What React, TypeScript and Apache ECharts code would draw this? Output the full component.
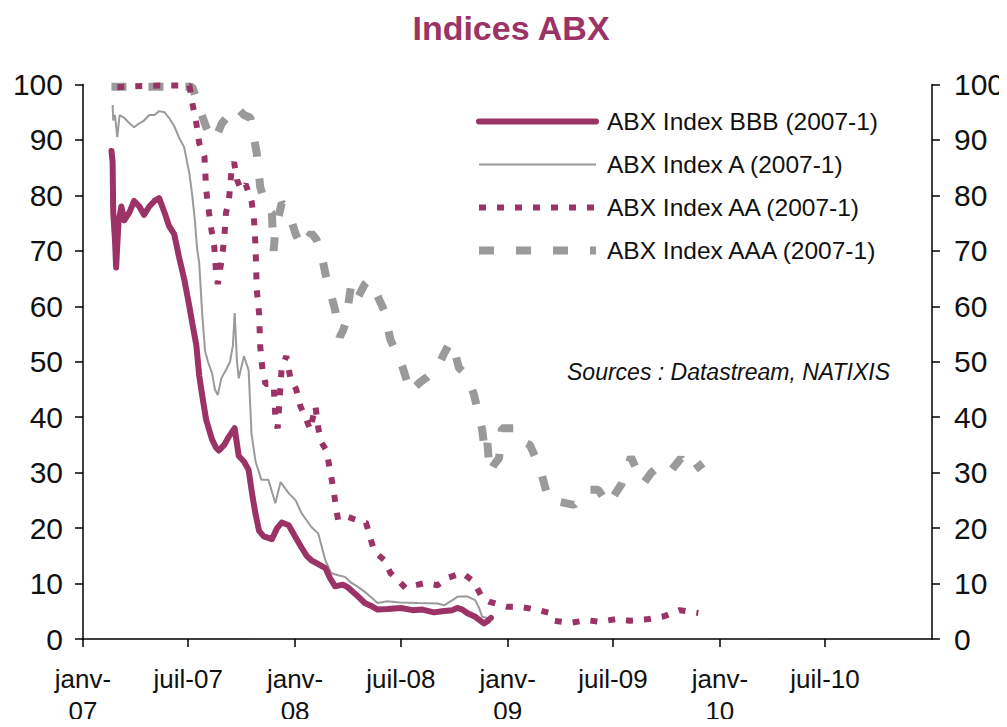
import React, { useEffect, useRef } from "react";
import * as echarts from "echarts";

const chartTitle = "Indices ABX";
const sourceNote = "Sources : Datastream, NATIXIS";
const seriesNames = [
  "ABX Index BBB (2007-1)",
  "ABX Index A (2007-1)",
  "ABX Index AA (2007-1)",
  "ABX Index AAA (2007-1)",
];
const monthLabels: Record<number, string> = { 0: "janv-\n", 6: "juil-" };

const bbb: [string, number][] = [
  ["2007-02-19", 88], ["2007-02-21", 86], ["2007-02-22", 77], ["2007-02-25", 72], ["2007-02-27", 67],
  ["2007-03-03", 75], ["2007-03-08", 78], ["2007-03-13", 75.5], ["2007-03-22", 77], ["2007-03-30", 79],
  ["2007-04-08", 78], ["2007-04-16", 76.5], ["2007-04-25", 78], ["2007-05-04", 79], ["2007-05-12", 79.5],
  ["2007-05-21", 77], ["2007-05-29", 74.5], ["2007-06-07", 73], ["2007-06-15", 69], ["2007-06-24", 65],
  ["2007-07-03", 60], ["2007-07-08", 57], ["2007-07-15", 53], ["2007-07-20", 47.5], ["2007-07-25", 44],
  ["2007-08-01", 39.5], ["2007-08-11", 36], ["2007-08-18", 34.5], ["2007-08-23", 34], ["2007-09-01", 35],
  ["2007-09-09", 36.5], ["2007-09-19", 38], ["2007-09-26", 33], ["2007-10-05", 32], ["2007-10-13", 30.5],
  ["2007-10-20", 25.5], ["2007-10-25", 22.5], ["2007-10-31", 19.5], ["2007-11-08", 18.5], ["2007-11-22", 18],
  ["2007-12-01", 20], ["2007-12-09", 21], ["2007-12-21", 20.5], ["2008-01-01", 18.5], ["2008-01-12", 16.5],
  ["2008-01-21", 15], ["2008-01-29", 14.2], ["2008-02-10", 13.5], ["2008-02-22", 12.8], ["2008-03-01", 11],
  ["2008-03-10", 9.5], ["2008-03-23", 9.8], ["2008-04-01", 9.3], ["2008-04-15", 8], ["2008-04-30", 6.5],
  ["2008-05-10", 6], ["2008-05-22", 5.3], ["2008-06-08", 5.4], ["2008-07-01", 5.6], ["2008-07-21", 5.2],
  ["2008-08-07", 5.3], ["2008-08-27", 4.8], ["2008-09-10", 5.0], ["2008-09-28", 5.2], ["2008-10-06", 5.6],
  ["2008-10-15", 5.3], ["2008-10-23", 4.7], ["2008-11-06", 4.0], ["2008-11-21", 2.8], ["2008-11-27", 3.2],
  ["2008-12-03", 3.8],
];

const indexA: [string, number][] = [
  ["2007-02-21", 96.3], ["2007-02-22", 93.5], ["2007-02-25", 94.5], ["2007-03-01", 90.5], ["2007-03-05", 94.5],
  ["2007-03-13", 94], ["2007-03-22", 93], ["2007-03-30", 92.3], ["2007-04-08", 93], ["2007-04-16", 93.5],
  ["2007-04-25", 94.5], ["2007-05-04", 94.5], ["2007-05-12", 95.2], ["2007-05-21", 95], ["2007-05-29", 94],
  ["2007-06-07", 92.5], ["2007-06-15", 90.5], ["2007-06-24", 88.7], ["2007-07-03", 84], ["2007-07-08", 80],
  ["2007-07-13", 75], ["2007-07-16", 70.7], ["2007-07-20", 67.8], ["2007-07-25", 58.8], ["2007-07-30", 52],
  ["2007-08-04", 50], ["2007-08-11", 48], ["2007-08-16", 45], ["2007-08-21", 44], ["2007-08-27", 47],
  ["2007-09-04", 48.5], ["2007-09-11", 50], ["2007-09-16", 53], ["2007-09-19", 58.8], ["2007-09-23", 50],
  ["2007-09-26", 47], ["2007-10-05", 51], ["2007-10-13", 48.5], ["2007-10-18", 37], ["2007-10-25", 32],
  ["2007-11-04", 28.7], ["2007-11-16", 28.7], ["2007-11-28", 24.5], ["2007-12-07", 28.3], ["2007-12-21", 26.3],
  ["2008-01-02", 25], ["2008-01-12", 22.7], ["2008-01-29", 20.2], ["2008-02-10", 19], ["2008-02-22", 14.2],
  ["2008-03-03", 11.9], ["2008-03-15", 11.5], ["2008-03-27", 11.2], ["2008-04-06", 10.2], ["2008-04-18", 9.4],
  ["2008-04-30", 8.5], ["2008-05-10", 7.6], ["2008-05-22", 6.5], ["2008-06-08", 6.8], ["2008-06-29", 6.6],
  ["2008-07-30", 6.5], ["2008-09-02", 6.4], ["2008-09-14", 6.1], ["2008-09-28", 7.0], ["2008-10-06", 7.6],
  ["2008-10-23", 7.7], ["2008-11-06", 7.0], ["2008-11-13", 5.5], ["2008-11-18", 4.0], ["2008-11-27", 3.8],
];

const indexAA: [string, number][] = [
  ["2007-03-01", 99.5], ["2007-03-30", 99.7], ["2007-05-12", 99.8], ["2007-07-03", 99.8], ["2007-07-08", 96.7],
  ["2007-07-15", 93], ["2007-07-20", 89.4], ["2007-07-29", 87], ["2007-08-01", 81], ["2007-08-06", 76.8],
  ["2007-08-10", 73.8], ["2007-08-15", 70.7], ["2007-08-18", 66], ["2007-08-21", 64], ["2007-08-27", 68],
  ["2007-09-01", 72], ["2007-09-04", 76.8], ["2007-09-09", 79], ["2007-09-14", 85], ["2007-09-18", 86],
  ["2007-09-23", 82.8], ["2007-09-30", 81], ["2007-10-08", 82], ["2007-10-18", 79], ["2007-10-22", 76],
  ["2007-10-25", 70.7], ["2007-10-27", 63], ["2007-10-31", 58.8], ["2007-11-02", 52.7], ["2007-11-06", 48.5],
  ["2007-11-11", 46], ["2007-11-25", 46], ["2007-11-28", 40], ["2007-12-02", 38], ["2007-12-09", 49],
  ["2007-12-17", 51], ["2007-12-24", 47], ["2008-01-03", 45], ["2008-01-10", 42], ["2008-01-19", 40],
  ["2008-01-27", 37.7], ["2008-02-05", 42], ["2008-02-10", 38], ["2008-02-15", 35.5], ["2008-02-24", 34],
  ["2008-03-01", 30.5], ["2008-03-07", 27], ["2008-03-12", 23.3], ["2008-03-15", 21.5], ["2008-04-01", 22],
  ["2008-04-15", 21.5], ["2008-05-02", 21], ["2008-05-10", 18], ["2008-05-17", 15.7], ["2008-06-03", 14.2],
  ["2008-06-13", 11.9], ["2008-06-26", 10.6], ["2008-07-09", 9.2], ["2008-07-26", 9.7], ["2008-08-12", 10.1],
  ["2008-09-02", 9.7], ["2008-09-19", 11], ["2008-10-15", 11.9], ["2008-11-04", 10.3], ["2008-11-18", 7.4],
  ["2008-12-01", 6.7], ["2008-12-31", 5.8], ["2009-01-23", 5.8], ["2009-02-24", 5.2], ["2009-03-13", 4.7],
  ["2009-03-21", 3.3], ["2009-04-18", 2.9], ["2009-05-17", 3.4], ["2009-06-08", 3.1], ["2009-07-07", 3.6],
  ["2009-07-30", 3.3], ["2009-09-01", 3.6], ["2009-09-27", 4.1], ["2009-10-24", 5.2], ["2009-11-25", 4.7],
];

const indexAAA: [string, number][] = [
  ["2007-02-19", 99.6], ["2007-04-25", 99.6], ["2007-07-08", 99.6], ["2007-07-15", 97.5], ["2007-07-20", 95.8],
  ["2007-08-01", 92.3], ["2007-08-11", 90], ["2007-08-20", 91], ["2007-08-28", 93], ["2007-09-09", 94.5],
  ["2007-09-21", 96], ["2007-10-05", 94.5], ["2007-10-16", 94], ["2007-10-27", 87.6], ["2007-11-02", 81.5],
  ["2007-11-09", 79], ["2007-11-16", 77.4], ["2007-11-22", 76.8], ["2007-11-25", 70], ["2007-11-28", 73.8],
  ["2007-12-09", 78.6], ["2007-12-16", 78], ["2007-12-24", 76], ["2008-01-02", 73], ["2008-01-12", 70.7],
  ["2008-01-21", 72], ["2008-01-29", 73.2], ["2008-02-07", 72], ["2008-02-14", 70], ["2008-02-24", 65],
  ["2008-03-03", 62], ["2008-03-10", 59.3], ["2008-03-18", 54.5], ["2008-03-23", 55.5], ["2008-03-28", 57],
  ["2008-04-06", 63.5], ["2008-04-15", 61], ["2008-04-22", 62.4], ["2008-04-30", 64], ["2008-05-06", 64.7],
  ["2008-05-17", 63], ["2008-06-02", 59.3], ["2008-06-13", 54], ["2008-06-26", 51], ["2008-07-04", 49],
  ["2008-07-18", 44.4], ["2008-07-26", 45.5], ["2008-08-03", 46.3], ["2008-08-16", 47.3], ["2008-09-02", 49],
  ["2008-09-14", 51.6], ["2008-09-24", 53.6], ["2008-10-01", 52], ["2008-10-09", 48.9], ["2008-10-18", 48],
  ["2008-10-26", 46.7], ["2008-11-04", 44], ["2008-11-13", 40], ["2008-11-18", 37.7], ["2008-11-23", 33.5],
  ["2008-11-27", 35.3], ["2008-12-01", 30], ["2008-12-08", 31.4], ["2008-12-17", 32.6], ["2008-12-22", 38],
  ["2009-01-03", 38], ["2009-01-11", 38], ["2009-01-17", 36.2], ["2009-01-29", 35.5], ["2009-02-08", 35],
  ["2009-02-25", 31], ["2009-03-06", 27.5], ["2009-03-13", 25], ["2009-04-01", 24.7], ["2009-04-25", 24.2],
  ["2009-05-08", 25.5], ["2009-05-17", 26.9], ["2009-06-06", 26.9], ["2009-06-23", 24.2], ["2009-07-16", 28],
  ["2009-08-01", 32.8], ["2009-08-13", 30], ["2009-08-22", 28], ["2009-09-05", 30], ["2009-09-17", 31],
  ["2009-10-06", 30], ["2009-10-26", 32.6], ["2009-11-12", 30], ["2009-12-03", 31.7],
];

const MAROON = "#9b3366";
const GRAY = "#9a9a9a";
const FONT = "'Liberation Sans', Arial, sans-serif";
const DAY = 24 * 3600 * 1000;

export default function App() {
  const ref = useRef<HTMLDivElement>(null);
  useEffect(() => {
    if (!ref.current) return;
    const chart = echarts.init(ref.current, undefined, { renderer: "svg" });
    const yAxisCommon = {
      type: "value" as const,
      min: 0,
      max: 100,
      interval: 10,
      splitLine: { show: false },
      axisLine: { show: true, lineStyle: { color: "#000", width: 1.5 } },
      axisTick: { show: true, length: 8, lineStyle: { color: "#000", width: 1.5 } },
    };
    chart.setOption({
      animation: false,
      backgroundColor: "#fff",
      graphic: [
        {
          type: "text",
          x: 511,
          y: 28,
          style: {
            text: chartTitle,
            fill: MAROON,
            font: `bold 34px ${FONT}`,
            textAlign: "center",
            textVerticalAlign: "middle",
          },
        },
        {
          type: "text",
          x: 890,
          y: 372,
          style: {
            text: sourceNote,
            fill: "#111",
            font: `italic 23px ${FONT}`,
            textAlign: "right",
            textVerticalAlign: "middle",
          },
        },
      ],
      legend: {
        orient: "vertical",
        left: 475,
        top: 109,
        padding: 0,
        itemWidth: 117,
        itemHeight: 26,
        itemGap: 18,
        data: seriesNames,
        lineStyle: { width: "inherit" },
        itemStyle: { opacity: 0 },
        textStyle: { fontSize: 24.5, color: "#111", fontFamily: FONT, padding: [0, 0, 0, 6] },
      },
      grid: { left: 83, right: 69, top: 84.5, bottom: 88 },
      xAxis: {
        type: "time",
        min: "2007-01-01",
        max: "2011-01-01",
        splitNumber: 8,
        minInterval: 180 * DAY,
        maxInterval: 185 * DAY,
        splitLine: { show: false },
        axisLine: { lineStyle: { color: "#000", width: 1.5 } },
        axisTick: { show: true, length: 8, lineStyle: { color: "#000", width: 1.5 } },
        axisLabel: {
          fontSize: 26,
          color: "#111",
          fontFamily: FONT,
          lineHeight: 32,
          margin: 24,
          showMaxLabel: false,
          formatter: (v: number) => {
            const d = new Date(v);
            const lab = monthLabels[d.getMonth()];
            if (lab === undefined || d.getFullYear() > 2010) return "";
            return lab + String(d.getFullYear()).slice(2);
          },
        },
      },
      yAxis: [
        {
          ...yAxisCommon,
          position: "left",
          axisLabel: { fontSize: 30, color: "#111", fontFamily: FONT, margin: 20 },
        },
        {
          ...yAxisCommon,
          position: "right",
          axisLabel: { fontSize: 30, color: "#111", fontFamily: FONT, margin: 22 },
        },
      ],
      series: [
        {
          name: seriesNames[3],
          type: "line",
          data: indexAAA,
          symbol: "none",
          z: 1,
          lineStyle: { color: GRAY, width: 8, type: [15, 22] },
          itemStyle: { color: GRAY },
        },
        {
          name: seriesNames[2],
          type: "line",
          data: indexAA,
          symbol: "none",
          z: 2,
          lineStyle: { color: MAROON, width: 6, type: [7, 11] },
          itemStyle: { color: MAROON },
        },
        {
          name: seriesNames[1],
          type: "line",
          data: indexA,
          symbol: "none",
          z: 3,
          lineStyle: { color: GRAY, width: 2 },
          itemStyle: { color: GRAY },
        },
        {
          name: seriesNames[0],
          type: "line",
          data: bbb,
          symbol: "none",
          z: 4,
          lineStyle: { color: MAROON, width: 6, cap: "round", join: "round" },
          itemStyle: { color: MAROON },
        },
      ],
    });
    return () => chart.dispose();
  }, []);
  return <div ref={ref} style={{ width: 1007, height: 727, margin: -8 }} />;
}
